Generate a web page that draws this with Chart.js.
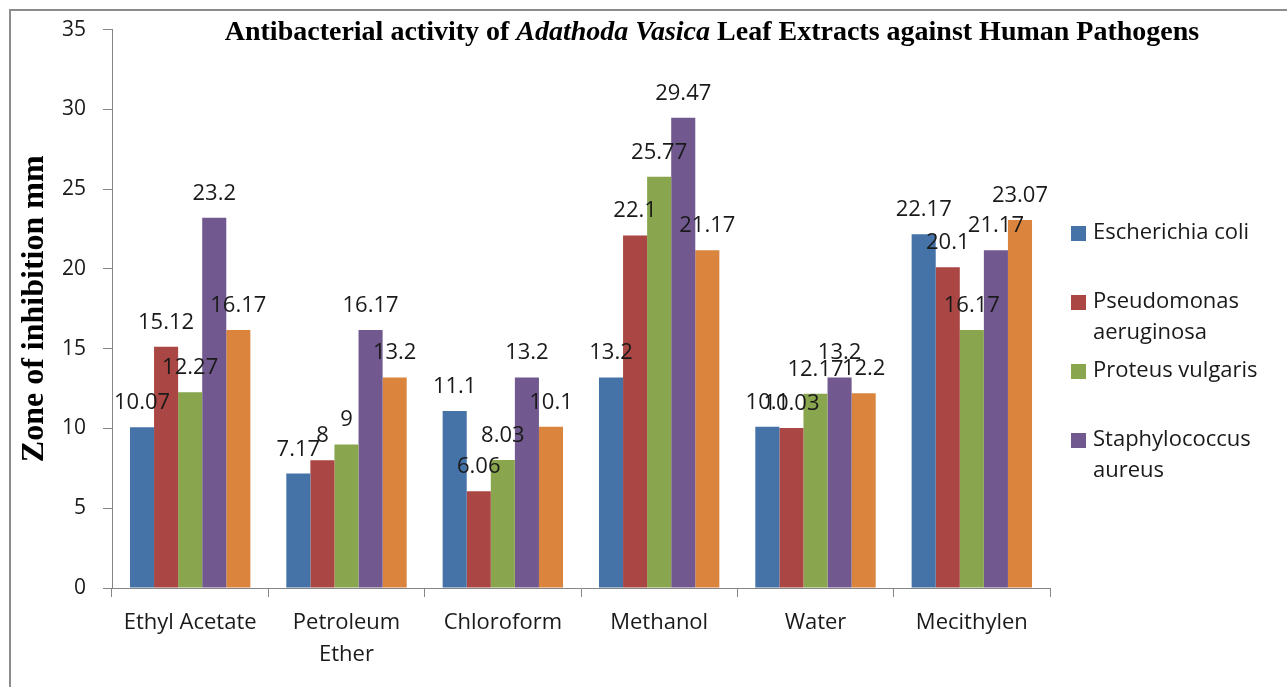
<!DOCTYPE html>
<html>
<head>
<meta charset="utf-8">
<script src="https://cdn.jsdelivr.net/npm/chart.js@4/dist/chart.umd.min.js"></script>
<style>
  html, body { margin: 0; padding: 0; background: #fff; }
  canvas { display: block; }
</style>
</head>
<body>
<canvas id="zone-chart" width="1287" height="687"></canvas>
<script>
const categories = ['Ethyl Acetate', ['Petroleum', 'Ether'], 'Chloroform', 'Methanol', 'Water', 'Mecithylen'];

const eColi = [10.07, 7.17, 11.1, 13.2, 10.1, 22.17];
const pseudomonas = [15.12, 8, 6.06, 22.1, 10.03, 20.1];
const proteus = [12.27, 9, 8.03, 25.77, 12.17, 16.17];
const staphylococcus = [23.2, 16.17, 13.2, 29.47, 13.2, 21.17];
const series5 = [16.17, 13.2, 10.1, 21.17, 12.2, 23.07];

const yTicks = [0, 5, 10, 15, 20, 25, 30, 35];

const axisGrey = '#868686';
const textFont = "'Open Sans', sans-serif";

// title has an italic part, so it is drawn by hand
const titlePlugin = {
    id: 'mixedTitle',
    afterDraw(chart) {
        const ctx = chart.ctx;
        const parts = [
            { text: 'Antibacterial activity of ', italic: false },
            { text: 'Adathoda Vasica', italic: true },
            { text: ' Leaf Extracts against Human Pathogens', italic: false }
        ];
        const size = 28;
        const fontFor = p => (p.italic ? 'italic ' : '') + 'bold ' + size + "px 'Liberation Serif', serif";
        let total = 0;
        parts.forEach(p => {
            ctx.font = fontFor(p);
            p.w = ctx.measureText(p.text).width;
            total += p.w;
        });
        let x = 712 - total / 2;
        ctx.save();
        ctx.fillStyle = '#000';
        ctx.textBaseline = 'alphabetic';
        ctx.textAlign = 'left';
        parts.forEach(p => {
            ctx.font = fontFor(p);
            ctx.fillText(p.text, x, 40);
            x += p.w;
        });
        ctx.restore();
    }
};

// outer frame lines (left and top only are visible)
const framePlugin = {
    id: 'frame',
    beforeDraw(chart) {
        const ctx = chart.ctx;
        ctx.save();
        ctx.strokeStyle = '#8c8c8c';
        ctx.lineWidth = 2;
        ctx.beginPath();
        ctx.moveTo(10, chart.height);
        ctx.lineTo(10, 10);
        ctx.lineTo(chart.width, 10);
        ctx.stroke();
        ctx.restore();
    }
};

const valueLabels = {
    id: 'valueLabels',
    afterDatasetsDraw(chart) {
        const ctx = chart.ctx;
        ctx.save();
        ctx.font = '22px ' + textFont;
        ctx.fillStyle = '#1a1a1a';
        ctx.textAlign = 'center';
        ctx.textBaseline = 'alphabetic';
        chart.data.datasets.forEach((ds, i) => {
            chart.getDatasetMeta(i).data.forEach((bar, j) => {
                ctx.fillText(String(ds.data[j]), bar.x, bar.y - 18);
            });
        });
        ctx.restore();
    }
};

const sideLegend = {
    id: 'sideLegend',
    afterDraw(chart) {
        const ctx = chart.ctx;
        const boxX = chart.chartArea.right + 21;
        const textX = boxX + 22;
        const maxW = chart.width - textX - 6;
        ctx.save();
        ctx.font = '22px ' + textFont;
        ctx.textBaseline = 'middle';
        ctx.textAlign = 'left';
        let y = 233;
        chart.data.datasets.filter(ds => ds.label).forEach(ds => {
            const words = ds.label.split(' ');
            const lines = [];
            let line = '';
            words.forEach(w => {
                const test = line ? line + ' ' + w : w;
                if (line && ctx.measureText(test).width > maxW) {
                    lines.push(line);
                    line = w;
                } else {
                    line = test;
                }
            });
            lines.push(line);
            ctx.fillStyle = ds.backgroundColor;
            ctx.fillRect(boxX, y - 7, 15, 15);
            ctx.fillStyle = '#1a1a1a';
            lines.forEach((l, k) => ctx.fillText(l, textX, y + k * 31));
            y += 69;
        });
        ctx.restore();
    }
};

const ctx = document.getElementById('zone-chart').getContext('2d');
new Chart(ctx, {
    type: 'bar',
    data: {
        labels: categories,
        datasets: [
            { label: 'Escherichia coli', data: eColi, backgroundColor: '#4572A7' },
            { label: 'Pseudomonas aeruginosa', data: pseudomonas, backgroundColor: '#AA4643' },
            { label: 'Proteus vulgaris', data: proteus, backgroundColor: '#89A54E' },
            { label: 'Staphylococcus aureus', data: staphylococcus, backgroundColor: '#71588F' },
            { label: '', data: series5, backgroundColor: '#DB843D' }
        ]
    },
    options: {
        responsive: false,
        animation: false,
        categoryPercentage: 0.77,
        barPercentage: 1,
        layout: {
            padding: { left: 0, top: 28, right: 237, bottom: 0 }
        },
        plugins: {
            legend: { display: false },
            title: { display: false },
            tooltip: { enabled: false }
        },
        scales: {
            x: {
                offset: true,
                grid: {
                    offset: true,
                    drawOnChartArea: false,
                    tickLength: 9,
                    color: axisGrey
                },
                border: { color: axisGrey, width: 1 },
                ticks: {
                    color: '#1a1a1a',
                    padding: 10,
                    font: { family: textFont, size: 22, lineHeight: 1.45 }
                },
                afterFit(scale) { scale.height = 99; }
            },
            y: {
                min: 0,
                max: 35,
                afterBuildTicks(scale) {
                    scale.ticks = yTicks.map(v => ({ value: v }));
                },
                grid: {
                    drawOnChartArea: false,
                    tickLength: 9,
                    color: axisGrey
                },
                border: { color: axisGrey, width: 1 },
                ticks: {
                    color: '#1a1a1a',
                    padding: 17,
                    font: { family: textFont, size: 21 }
                },
                title: {
                    display: true,
                    text: 'Zone of inhibition mm',
                    color: '#000',
                    font: { family: "'Liberation Serif', serif", size: 32, weight: 'bold' },
                    padding: { top: 16, bottom: 0 }
                },
                afterFit(scale) { scale.width = 112; }
            }
        }
    },
    plugins: [framePlugin, valueLabels, sideLegend, titlePlugin]
});
</script>
</body>
</html>
